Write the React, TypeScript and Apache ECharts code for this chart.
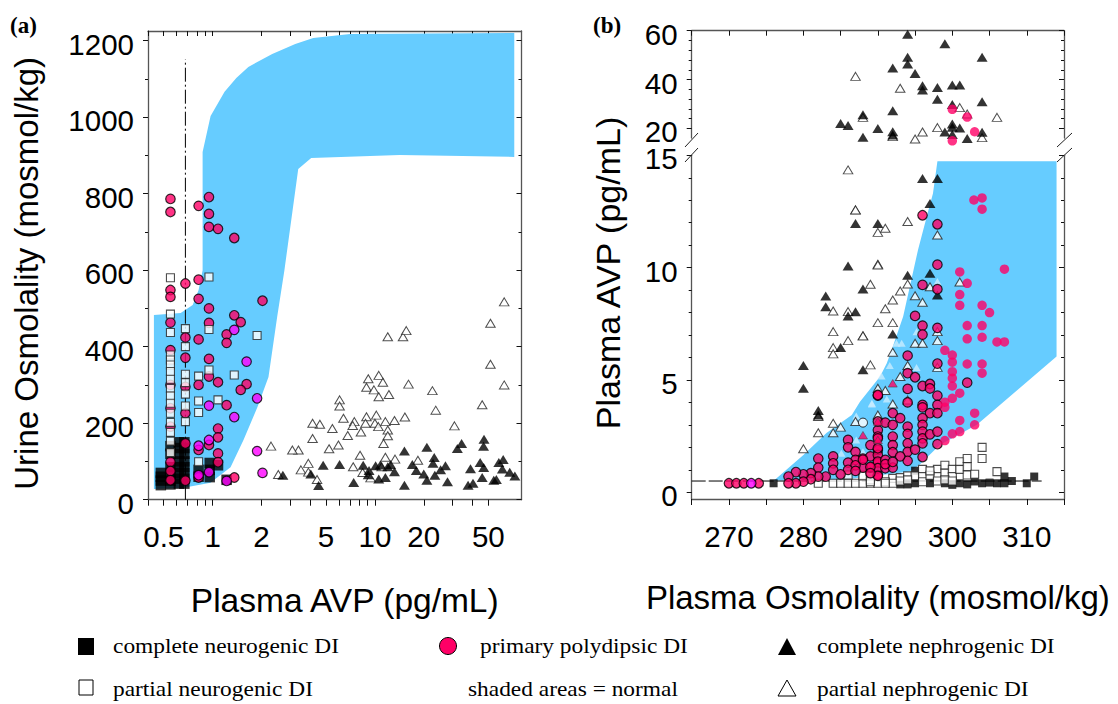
import React, { useEffect, useRef } from "react";
import * as echarts from "echarts";

// ---------- panel (a): Plasma AVP (pg/mL) vs Urine Osmolality (mosmol/kg)
const aXLabels = [0.5, 1, 2, 5, 10, 20, 50];
const aXTicks = [0.4, 0.5, 0.6, 0.7, 0.8, 0.9, 1, 2, 3, 4, 5, 6, 7, 8, 9, 10, 20, 30, 40, 50];
const aYMajor = [0, 200, 400, 600, 800, 1000, 1200];
const aYMinor = [100, 300, 500, 700, 900, 1100];
const aNormal = [
  [0.868, 909], [0.972, 1003], [1.185, 1066], [1.4, 1102], [1.66, 1131], [2.33, 1165], [3.23, 1191], [4.17, 1207],
  [7.03, 1217], [72.2, 1220], [72.2, 896], [14.2, 901], [4.05, 893], [3.37, 864], [2.77, 600], [2.5, 478],
  [2.21, 321], [1.89, 242], [1.55, 156], [1.29, 85], [0.97, 44], [0.664, 31], [0.435, 28], [0.435, 483],
  [0.636, 488], [0.754, 509], [0.82, 548], [0.868, 600],
];
const aDashLine = [[0.68, 0], [0.68, 1151]];
const aCompleteNeuro = [
  [0.48, 70], [0.48, 60], [0.48, 50], [0.48, 38], [0.55, 40], [0.55, 50], [0.55, 65], [0.55, 85], [0.55, 140], [0.55, 120],
  [0.62, 150], [0.62, 135], [0.62, 120], [0.62, 100], [0.62, 85], [0.62, 70], [0.62, 55], [0.62, 42],
  [0.67, 150], [0.67, 135], [0.67, 120], [0.67, 100], [0.67, 85], [0.67, 70], [0.67, 55], [0.67, 42],
  [0.82, 78], [0.82, 60], [0.96, 96], [0.96, 78], [0.96, 59], [1.08, 90], [1.22, 52],
];
const aPrimary = [
  [0.55, 786], [0.55, 752], [0.82, 768], [0.95, 791], [0.95, 747], [0.95, 713], [1.08, 708], [1.36, 684],
  [0.55, 548], [0.55, 530], [0.68, 565], [0.82, 575], [0.82, 525], [0.95, 500], [0.95, 462], [2.03, 520],
  [1.36, 482], [1.49, 464], [1.22, 432], [1.22, 410], [0.82, 419], [0.68, 424], [0.55, 463], [0.68, 371],
  [0.95, 368], [0.95, 322], [1.08, 307], [0.82, 300], [1.62, 302], [1.49, 287], [1.22, 247], [0.55, 391],
  [0.55, 300], [0.55, 239], [0.55, 191], [0.68, 295], [0.68, 226], [1.08, 186], [1.08, 163], [0.95, 143],
  [0.82, 130], [0.68, 147], [1.08, 121], [1.08, 98], [0.55, 99], [0.55, 75], [0.55, 51], [0.68, 50], [0.82, 58], [1.36, 58],
];
const aPrimaryMagenta = [
  [1.36, 444], [1.62, 361], [1.88, 265], [0.95, 246], [1.36, 216], [0.95, 156], [0.82, 141], [1.88, 127],
  [2.03, 70], [0.95, 72], [1.22, 49], [0.82, 64],
];
const aPartialNeuro = [
  [0.55, 580], [0.95, 582], [0.55, 485], [0.55, 437], [0.68, 447], [0.95, 445], [1.88, 429], [0.68, 400],
  [0.55, 378], [0.55, 365], [0.55, 352], [0.55, 335], [0.55, 315], [0.55, 291], [0.55, 271], [0.55, 252], [0.55, 226],
  [0.55, 202], [0.55, 176], [0.55, 153], [0.55, 123], [0.68, 328], [0.68, 306], [0.68, 276], [0.68, 245],
  [0.68, 204], [0.82, 323], [0.95, 339], [1.36, 326], [1.08, 261], [0.82, 258], [0.82, 228], [0.82, 99],
];
const aCompleteNephro = [
  [4.8, 90], [6.06, 92], [4.03, 67], [4.5, 37], [8.47, 90], [7.4, 45], [9.2, 76], [9.1, 65], [10.1, 89], [10.8, 91],
  [12.5, 92], [12, 86], [13.2, 73], [10.56, 54], [11.6, 58], [15.2, 127], [15.2, 38], [20.9, 137], [17, 92], [18, 76],
  [20, 67], [20.9, 51], [23.2, 110], [22.8, 95], [27.2, 89], [25.4, 78], [23.4, 64], [28, 47], [34.2, 147], [32.2, 134],
  [47, 158], [46.7, 140], [38.8, 81], [44.5, 97], [46.8, 84], [45.8, 58], [37.5, 38], [40.2, 43], [54, 51], [56, 53],
  [58, 97], [61.7, 105], [61, 80], [67.7, 72], [72.8, 62], [2.71, 64],
];
const aPartialNephro = [
  [62.6, 517], [51.5, 461], [51.5, 354], [62.6, 300], [45.8, 248], [30.9, 193], [22.6, 285], [23.7, 234], [16.1, 302],
  [12, 426], [14.9, 426], [15.6, 442], [10.56, 325], [9.1, 316], [11.2, 307], [8.87, 294], [9.86, 287], [10.56, 269],
  [12.2, 275], [6.06, 261], [6.06, 245], [6.4, 213], [8.87, 217], [10.2, 221], [15.3, 216], [13.2, 207], [11.6, 204],
  [10, 200], [8.75, 200], [7.47, 204], [7.3, 194], [10.5, 191], [12, 182], [8.2, 177], [12, 167], [6.8, 168], [11.3, 147],
  [5.47, 186], [4.58, 197], [4.13, 200], [4.13, 160], [5.96, 143], [5.22, 133], [3.38, 130], [3.1, 130], [8.1, 116],
  [11.6, 111], [13.3, 106], [18.4, 103], [7.35, 86], [11, 86], [3.89, 95], [3.5, 78], [3.89, 72], [4.4, 53], [8.4, 71],
  [9.4, 57], [2.29, 140], [2.54, 66],
];

// ---------- panel (b): Plasma Osmolality (mosmol/kg) vs Plasma AVP (pg/mL), broken y axis
const bXLabels = [270, 280, 290, 300, 310];
const bXTicks = [265, 270, 275, 280, 285, 290, 295, 300, 305, 310, 315];
const bUpperMajor = [20, 40, 60];
const bUpperMinor = [24, 28, 32, 36, 44, 48, 52, 56];
const bLowerMajor = [0, 5, 10, 15];
const bLowerMinor = [1, 2, 3, 4, 6, 7, 8, 9, 11, 12, 13, 14];
const bNormal = [
  [276.05, 0.52], [280, 1.66], [283.1, 2.64], [286.5, 3.44], [287.6, 4.03], [290.3, 5.15], [291.2, 5.74], [292, 6.48],
  [293.4, 7.82], [295.4, 10.8], [296.8, 12.57], [297.4, 13.3], [298, 14.74], [314, 14.74], [314, 6.04], [303.3, 3],
  [298.3, 2.1], [295.6, 1.22], [294.3, 0.92], [285, 0.55],
];
const bBaseline = [[265, 0.5], [312, 0.5]];
const bUpperCompleteNephro = [
  [294, 58.5], [299, 54.7], [294, 49.1], [304, 49.1], [294, 46.4], [292, 44.7], [295, 42.5], [296, 37.4], [296, 35.7],
  [298, 36.7], [300, 37.8], [301, 37.8], [298, 31.9], [304, 30.9], [300, 29.8], [292, 27.2], [288, 25.6], [285, 22],
  [286, 21.2], [290, 19.9], [292, 18.6], [292, 17.3], [300, 21.8], [300, 20.4], [301, 20.1], [299, 18.5], [300, 17.5],
  [288, 16.3], [302, 15.8], [304, 18.4],
];
const bUpperPartialNephro = [
  [287, 41.3], [293, 36.4], [301, 28.5], [302, 25.9], [306, 24.5], [288, 24.5], [296, 18.5], [298, 20.3], [295, 15.6],
  [304, 16.2], [292, 16.6],
];
const bUpperPrimary = [[300, 27.8], [302, 24.6], [303, 18.6], [300, 14.9]];
const bPartialNeuro = [
  [282, 0.4], [284, 0.4], [285, 0.4], [286, 0.4], [287, 0.4], [288, 0.4], [289, 0.4], [290, 0.4], [286, 0.77], [288, 0.77],
  [289, 0.55], [304, 2], [304, 1.5], [288, 0.73], [289, 0.73], [292, 0.62], [293, 0.65], [294, 0.73], [295, 0.73],
  [296, 1.02], [296, 0.7], [296, 0.47], [298, 1.02], [298, 0.7], [299, 1.2], [299, 0.85], [300, 1.02], [300, 0.7],
  [301, 1.36], [301, 1.02], [302, 1.5], [302, 1.14], [302, 0.77], [303, 0.8], [306, 0.92], [289, 0.47], [291, 0.47], [292, 0.4],
  [291, 0.4], [293, 0.5], [294, 0.55], [297, 0.75], [297, 0.95], [298, 0.5], [299, 0.55], [300, 0.5],
];
const bCompleteNeuro = [
  [276, 0.4], [293, 0.35], [294, 0.35], [295, 0.96], [295, 0.4], [297, 0.4], [299, 0.4], [300, 0.33], [301, 0.4], [302, 0.35],
  [303, 0.48], [304, 0.4], [305, 0.43], [306, 0.4], [307, 0.7], [307, 0.4], [308, 0.5], [310, 0.4], [311, 0.7],
];
const bPrimary = [
  [270, 0.4], [271, 0.4], [272, 0.4], [274, 0.4], [290, 4.3], [286, 2.33], [286, 2], [282, 1.5], [284, 1.6], [284, 1.29], [284, 1],
  [287, 1.8], [289, 2.1], [288, 1.5], [287, 1.44], [286, 1.32], [289, 1.6], [290, 1.88], [290, 1.66], [290, 1.3], [289, 1.1],
  [288, 1.1], [287, 1.2], [286, 1], [285, 0.8], [283, 0.7], [282, 1.1], [282, 0.7], [281, 0.85], [281, 0.58], [280, 0.8],
  [280, 0.47], [279, 0.9], [279, 0.4], [278, 0.7], [278, 0.4], [290, 2.77], [290, 2.48], [290, 3.15], [290, 0.77],
  [296, 12.33], [298, 11.93], [298, 10.13], [296, 9.23], [298, 9.04], [295, 7.85], [296, 7.42], [296, 7.02], [298, 7.32],
  [294, 6.08], [298, 5.73], [294, 5.3], [295, 5.12], [296, 4.73], [297, 4.82], [297, 4.62], [294, 4.6], [294, 4], [298, 4.3],
  [298, 3.89], [296, 3.89], [296, 3.78], [297, 3.52], [298, 3.52], [302, 4.88], [292, 3.52], [293, 3.3], [291, 3.1], [290, 4.33],
  [296, 3.3], [296, 3], [296, 2.7], [296, 2.4], [296, 2.18], [292, 3], [292, 2.48], [292, 2.1], [292, 1.78], [294, 2.92],
  [294, 2.6], [294, 2.18], [294, 1.8], [294, 1.4], [293, 1.6], [295, 1.9], [296, 1.57], [297, 2.58], [298, 2.7], [298, 2.14],
  [290, 2.4], [290, 1.96], [290, 1.36], [290, 1.07], [289, 1.13], [288, 1.45], [291, 1.44], [291, 1.07], [292, 1.1], [290, 0.73],
  [291, 1.25], [292, 1.35], [289, 0.85], [287, 0.95],
];
const bPrimaryNoEdge = [
  [302.9, 13.01], [304, 13.1], [304, 12.6], [301, 9.81], [302, 9.3], [307, 9.93], [301, 8.8], [301, 8.32], [304, 8.32],
  [305, 8], [302, 7.42], [304, 7.42], [302, 6.83], [304, 6.9], [306, 6.69], [307, 6.69], [299, 6.32], [300, 6.11],
  [300, 5.79], [302, 5.71], [304, 5.71], [304, 5.3], [300, 5.37], [300, 5.08], [300, 4.73], [301, 4.41], [300, 4.18],
  [299, 4.01], [299, 3.78], [303, 3.52], [301, 3.2], [303, 3], [301, 2.7], [300, 2.6], [299, 2.3],
];
const bPrimaryMagenta = [[273, 0.4]];
const bCompleteNephro = [
  [296, 13.97], [298, 13.97], [297, 12.85], [287, 11.96], [290, 11.96], [286, 10.07], [288, 9.05], [283, 8.74], [283, 8.26],
  [287, 8.04], [286, 7.85], [285, 6.44], [288, 5.45], [280, 5.64], [280, 4.63], [282, 3.64], [282, 3.44], [294, 9.66],
  [297, 9.75], [292, 7.05], [298, 8.78],
];
const bPartialNephro = [
  [286, 14.35], [287, 12.56], [287, 12.57], [290, 11.57], [290, 10.15], [289, 9.26], [284, 8.07], [286, 8.04], [290, 7.55],
  [284, 7.15], [288, 6.97], [286, 6.75], [284, 6.44], [284, 6.16], [289, 5.67], [290, 4.63], [290, 3.44], [284, 3.07],
  [285, 2.9], [287, 3.15], [282, 2.65], [284, 2.65], [280, 1.94], [282, 3.37], [294, 12.05], [298, 11.45], [291, 11.75],
  [290, 10.12], [294, 9.27], [293, 8.96], [297, 9.15], [301, 9.36], [292, 8.56], [295, 8.75], [296, 8.46], [291, 8.17],
  [292, 7.55], [288, 6.96], [295, 6.63], [296, 6.63], [298, 6.75], [298, 7.15], [292, 6.23], [294, 5.64], [298, 5.56],
  [293, 5.15], [291, 4.53], [294, 4.11], [292, 3.93],
];
const bPaleTriangles = [
  [289.2, 3.93], [287.1, 3.4], [287.1, 2.33], [285.1, 1.74], [288, 1.8], [298, 9.38], [293.2, 6.63], [292.5, 6.63], [295.2, 7.15],
  [291.6, 5.64], [295.2, 5.55], [290.5, 5.18], [289.2, 3.96], [291.2, 4.15],
];
const bRedTriangles = [[288, 2.54], [290, 3.15], [292, 4.85], [290, 2.33]];
const bWhiteCircles = [[288, 3.1]];

const BLUE = "#66ccff";
const RED = "#ff0066";
const MAGENTA = "#ff00ff";
const SANS = "'Liberation Sans', Arial, sans-serif";
const SERIF = "'Liberation Serif', 'Times New Roman', serif";
const AXIS_GREY = "#555555";

function polygonSeries(points: number[][], xAxisIndex: number, yAxisIndex: number) {
  return {
    type: "custom", xAxisIndex, yAxisIndex, data: points, silent: true, clip: false, z: 1,
    encode: { x: 0, y: 1 },
    renderItem: (params: any, api: any) => {
      if (params.dataIndex !== 0) return { type: "group", children: [] };
      return {
        type: "polygon",
        shape: { points: points.map((p) => api.coord(p)) },
        style: { fill: BLUE, stroke: "none" },
      };
    },
  };
}

function dashSeries(points: number[][], xAxisIndex: number, yAxisIndex: number, dash: number[]) {
  return {
    type: "line", xAxisIndex, yAxisIndex, data: points, symbol: "none", silent: true, z: 2,
    lineStyle: { color: "#000", width: 1, type: dash },
  };
}

type Mark = "square" | "smallSquare" | "tri" | "openTri" | "openSquare" | "red" | "redPlain" | "magenta" | "pale" | "redTri" | "whiteCircle";

function scatter(name: string, points: number[][], mark: Mark, xAxisIndex: number, yAxisIndex: number, z: number) {
  const look: Record<Mark, any> = {
    square: { symbol: "rect", symbolSize: 10.5, itemStyle: { color: "#000" } },
    smallSquare: { symbol: "rect", symbolSize: 8, itemStyle: { color: "#000" } },
    openSquare: { symbol: "rect", symbolSize: 8, itemStyle: { color: "#fff", borderColor: "#222", borderWidth: 1.1 } },
    red: { symbol: "circle", symbolSize: 9.5, itemStyle: { color: RED, borderColor: "#000", borderWidth: 1.2 } },
    redPlain: { symbol: "circle", symbolSize: 9.5, itemStyle: { color: RED } },
    magenta: { symbol: "circle", symbolSize: 9.5, itemStyle: { color: MAGENTA, borderColor: "#000", borderWidth: 1.2 } },
    tri: { symbol: "triangle", symbolSize: [11, 9], itemStyle: { color: "#000" } },
    openTri: { symbol: "triangle", symbolSize: [9.5, 8], itemStyle: { color: "#fff", borderColor: "#222", borderWidth: 1 } },
    pale: { symbol: "triangle", symbolSize: [8, 7], itemStyle: { color: "#c8ecff" } },
    redTri: { symbol: "triangle", symbolSize: [9, 7.5], itemStyle: { color: RED, borderColor: "#444", borderWidth: 0.7 } },
    whiteCircle: { symbol: "circle", symbolSize: 9, itemStyle: { color: "#fff", borderColor: "#000", borderWidth: 1 } },
  };
  return { type: "scatter", name, data: points, xAxisIndex, yAxisIndex, clip: false, z, ...look[mark] };
}

function base(gridIndex: number, position: string, min: number, max: number) {
  return {
    gridIndex, position, min, max, splitLine: { show: false },
    axisLine: { show: true, onZero: false, lineStyle: { color: AXIS_GREY, width: 1.3 } },
    minorTick: { show: false },
  };
}
const labelStyle = { color: "#000", fontFamily: SANS, fontSize: 29.5, lineHeight: 22 };

function tickAxis(opts: {
  grid: number; position: string; min: number; max: number; ticks: number[]; length: number; inside: boolean;
  labels?: number[]; line?: boolean; logBase?: boolean; margin?: number; name?: string; nameGap?: number;
  nameSize?: number; namePadding?: number[]; interval?: number; lowered?: boolean;
}) {
  const a: any = base(opts.grid, opts.position, opts.min, opts.max);
  a.type = opts.logBase ? "log" : "value";
  if (opts.logBase) a.logBase = 10;
  if (opts.interval) a.interval = opts.interval;
  a.axisLine.show = opts.line !== false;
  a.axisTick = { show: true, inside: opts.inside, length: opts.length, customValues: opts.ticks, lineStyle: { color: "#111", width: 1 } };
  a.axisLabel = opts.labels
    ? {
        show: true, customValues: opts.labels, margin: opts.margin ?? 10, hideOverlap: false,
        formatter: (v: number) => String(+Number(v).toFixed(2)), ...labelStyle,
        ...(opts.lowered ? { verticalAlign: "top", lineHeight: 7 } : {}),
      }
    : { show: false };
  if (opts.name) {
    a.name = opts.name;
    a.nameLocation = "middle";
    a.nameGap = opts.nameGap;
    a.nameTextStyle = { color: "#000", fontFamily: SANS, fontSize: opts.nameSize ?? 33.5, padding: opts.namePadding ?? 0 };
  }
  return a;
}

function legendText(text: string, x: number, y: number) {
  return { type: "text", x, y, scaleX: 1.17, style: { text, fontFamily: SERIF, fontSize: 20, fill: "#000", verticalAlign: "middle" } };
}

function legendGraphics() {
  return [
    { type: "rect", shape: { x: 78, y: 638, width: 16, height: 17 }, style: { fill: "#000" } },
    { type: "rect", shape: { x: 79, y: 680, width: 14, height: 15 }, style: { fill: "#fff", stroke: "#000", lineWidth: 1 } },
    { type: "ellipse", shape: { cx: 448, cy: 646, rx: 8.5, ry: 8.5 }, style: { fill: RED, stroke: "#000", lineWidth: 1 } },
    { type: "polygon", shape: { points: [[787, 638], [796, 655], [778, 655]] }, style: { fill: "#000" } },
    { type: "polygon", shape: { points: [[787, 680], [796, 696], [778, 696]] }, style: { fill: "#fff", stroke: "#000", lineWidth: 1 } },
    legendText("complete neurogenic DI", 113, 647),
    legendText("partial neurogenic DI", 113, 690),
    legendText("primary polydipsic DI", 480, 647),
    legendText("shaded areas = normal", 468, 690),
    legendText("complete nephrogenic DI", 817, 647),
    legendText("partial nephrogenic DI", 817, 690),
    { type: "text", x: 10, y: 25, style: { text: "(a)", fontFamily: SERIF, fontWeight: "bold", fontSize: 23, fill: "#000", verticalAlign: "middle" } },
    { type: "text", x: 593, y: 25, style: { text: "(b)", fontFamily: SERIF, fontWeight: "bold", fontSize: 23, fill: "#000", verticalAlign: "middle" } },
    { type: "text", x: 608, y: 273, rotation: Math.PI / 2, style: { text: "Plasma AVP (pg/mL)", fontFamily: SANS, fontSize: 34, fill: "#000", align: "center", verticalAlign: "middle" } },
    { type: "line", shape: { x1: 685, y1: 147, x2: 698, y2: 133 }, style: { stroke: "#222", lineWidth: 1 } },
    { type: "line", shape: { x1: 685, y1: 162, x2: 698, y2: 148 }, style: { stroke: "#222", lineWidth: 1 } },
    { type: "line", shape: { x1: 1057, y1: 147, x2: 1072, y2: 133 }, style: { stroke: "#222", lineWidth: 1 } },
    { type: "line", shape: { x1: 1057, y1: 162, x2: 1072, y2: 148 }, style: { stroke: "#222", lineWidth: 1 } },
  ];
}

export default function App() {
  const ref = useRef<HTMLDivElement>(null);
  useEffect(() => {
    const chart = echarts.init(ref.current!, undefined, { renderer: "svg" });
    const H = 704, W = 1118;
    chart.setOption({
      animation: false,
      backgroundColor: "#fff",
      grid: [
        { left: 148, right: W - 521.5, top: 31, bottom: H - 499.7 },
        { left: 691.7, right: W - 1064, top: 30.7, bottom: H - 138.1 },
        { left: 691.7, right: W - 1064, top: 155.3, bottom: H - 499 },
      ],
      xAxis: [
        tickAxis({ grid: 0, position: "bottom", min: 0.4, max: 80, ticks: aXTicks, length: 6, inside: false, labels: aXLabels, margin: 26, logBase: true, name: "Plasma AVP (pg/mL)", nameGap: 84, namePadding: [0, 0, 0, 20] }),
        tickAxis({ grid: 0, position: "top", min: 0.4, max: 80, ticks: aXTicks, length: 5, inside: true, logBase: true }),
        tickAxis({ grid: 1, position: "top", min: 265, max: 315, ticks: bXTicks, length: 5, inside: true, interval: 5 }),
        tickAxis({ grid: 2, position: "bottom", min: 265, max: 315, ticks: bXTicks, length: 6, inside: false, labels: bXLabels, margin: 26, interval: 5, name: "Plasma Osmolality (mosmol/kg)", nameGap: 82, nameSize: 33 }),
      ],
      yAxis: [
        tickAxis({ grid: 0, position: "left", min: 0, max: 1225, ticks: aYMajor, length: 5, inside: false, labels: aYMajor, margin: 14, lowered: true, name: "Urine Osmolality (mosmol/kg)", nameGap: 105, nameSize: 33, namePadding: [0, 16, 0, 0] }),
        tickAxis({ grid: 0, position: "left", min: 0, max: 1225, ticks: aYMinor, length: 3, inside: false, line: false }),
        tickAxis({ grid: 0, position: "right", min: 0, max: 1225, ticks: aYMajor, length: 5, inside: true }),
        tickAxis({ grid: 0, position: "right", min: 0, max: 1225, ticks: aYMinor, length: 3, inside: true, line: false }),
        tickAxis({ grid: 1, position: "left", min: 16, max: 60, ticks: bUpperMajor, length: 5, inside: false, labels: bUpperMajor, margin: 14, lowered: true }),
        tickAxis({ grid: 1, position: "left", min: 16, max: 60, ticks: bUpperMinor, length: 3, inside: false, line: false }),
        tickAxis({ grid: 1, position: "right", min: 16, max: 60, ticks: bUpperMajor, length: 5, inside: true }),
        tickAxis({ grid: 1, position: "right", min: 16, max: 60, ticks: bUpperMinor, length: 3, inside: true, line: false }),
        tickAxis({ grid: 2, position: "left", min: -0.3, max: 15, ticks: bLowerMajor, length: 5, inside: false, labels: bLowerMajor, margin: 14, lowered: true }),
        tickAxis({ grid: 2, position: "left", min: -0.3, max: 15, ticks: bLowerMinor, length: 3, inside: false, line: false }),
        tickAxis({ grid: 2, position: "right", min: -0.3, max: 15, ticks: bLowerMajor, length: 5, inside: true }),
        tickAxis({ grid: 2, position: "right", min: -0.3, max: 15, ticks: bLowerMinor, length: 3, inside: true, line: false }),
      ],
      series: [
        polygonSeries(aNormal, 0, 0),
        dashSeries(aDashLine, 0, 0, [14, 3, 2, 3]),
        scatter("complete neurogenic DI", aCompleteNeuro, "square", 0, 0, 3),
        scatter("primary polydipsic DI", aPrimary, "red", 0, 0, 4),
        scatter("primary polydipsic DI (magenta)", aPrimaryMagenta, "magenta", 0, 0, 4),
        scatter("partial neurogenic DI", aPartialNeuro, "openSquare", 0, 0, 5),
        scatter("complete nephrogenic DI", aCompleteNephro, "tri", 0, 0, 6),
        scatter("partial nephrogenic DI", aPartialNephro, "openTri", 0, 0, 5),

        scatter("complete nephrogenic DI", bUpperCompleteNephro, "tri", 2, 4, 6),
        scatter("partial nephrogenic DI", bUpperPartialNephro, "openTri", 2, 4, 5),
        scatter("primary polydipsic DI", bUpperPrimary, "redPlain", 2, 4, 7),

        polygonSeries(bNormal, 3, 8),
        dashSeries(bBaseline, 3, 8, [14, 3]),
        scatter("partial nephrogenic DI (masked)", bPaleTriangles, "pale", 3, 8, 2),
        scatter("complete neurogenic DI", bCompleteNeuro, "smallSquare", 3, 8, 3),
        scatter("partial neurogenic DI", bPartialNeuro, "openSquare", 3, 8, 3),
        scatter("partial nephrogenic DI", bPartialNephro, "openTri", 3, 8, 3),
        scatter("complete nephrogenic DI", bCompleteNephro, "tri", 3, 8, 3),
        scatter("primary polydipsic DI", bPrimary, "red", 3, 8, 4),
        scatter("primary polydipsic DI (magenta)", bPrimaryMagenta, "magenta", 3, 8, 4),
        scatter("primary polydipsic DI (triangle)", bRedTriangles, "redTri", 3, 8, 5),
        scatter("primary polydipsic DI (white)", bWhiteCircles, "whiteCircle", 3, 8, 5),
        scatter("primary polydipsic DI", bPrimaryNoEdge, "redPlain", 3, 8, 4),
      ],
      graphic: legendGraphics(),
    });
    return () => chart.dispose();
  }, []);
  return <div ref={ref} style={{ position: "absolute", left: 0, top: 0, width: 1118, height: 704, background: "#fff" }} />;
}
